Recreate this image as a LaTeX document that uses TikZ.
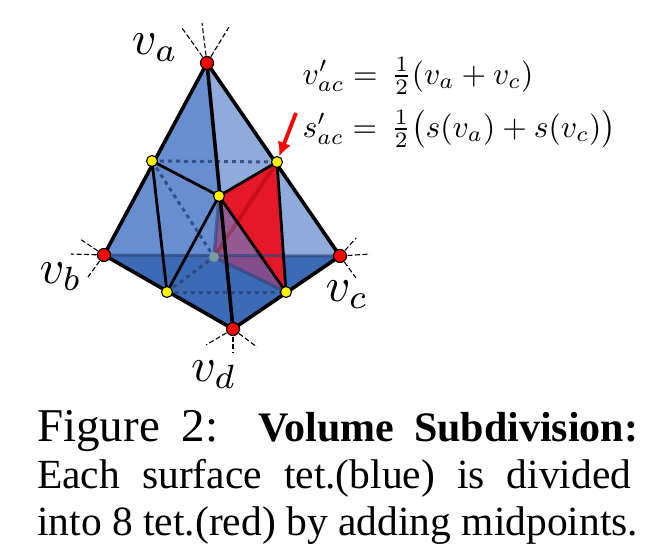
\documentclass[tikz,border=0pt]{standalone}
\usepackage{amsmath}
\usepackage{fontspec}
\setmainfont{Liberation Serif}
\usepackage{tikz}
\usetikzlibrary{arrows.meta}
\definecolor{faceleft}{RGB}{103,143,208}
\definecolor{faceright}{RGB}{142,171,220}
\definecolor{facebase}{RGB}{61,106,180}
\definecolor{edgeblue}{RGB}{42,70,125}
\definecolor{tetred}{RGB}{228,24,40}
\definecolor{tetpurple}{RGB}{150,70,130}
\definecolor{fadedmid}{RGB}{115,155,160}
\tikzset{
    corner/.style={draw, circle, fill=red, line width=1.2pt, inner sep=0pt, minimum size=13pt},
    mid/.style={draw, circle, fill=yellow, line width=1.1pt, inner sep=0pt, minimum size=11pt},
    spoke/.style={line width=1.1pt, dash pattern=on 5pt off 2.5pt},
    hidden/.style={edgeblue, opacity=0.85, line width=3pt, dash pattern=on 4pt off 4pt},
    outer/.style={line width=3.6pt},
    inner/.style={line width=2.8pt},
    vlabel/.style={inner sep=0pt, scale=4.8},
    formula/.style={inner sep=0pt, anchor=base west, scale=3.15},
    caption/.style={inner sep=0pt, anchor=base west, font=\fontsize{41.5}{41.5}\selectfont}
}

\begin{document}
\begin{tikzpicture}[x=1pt, y=-1pt]
    \useasboundingbox (0, 0) rectangle (666, 557);

    % vertices of the big tet
    \coordinate (a) at (207, 63);
    \coordinate (b) at (104, 255);
    \coordinate (c) at (340, 256);
    \coordinate (d) at (233, 329);

    % midpoints of its edges
    \coordinate (ab) at (152, 161);
    \coordinate (ac) at (277, 162);
    \coordinate (ad) at (219, 196);
    \coordinate (bd) at (167, 292);
    \coordinate (cd) at (286, 292);
    \coordinate (bc) at (214, 257);

    % faces
    \fill[faceleft] (a) -- (b) -- (d) -- cycle;
    \fill[faceright] (a) -- (c) -- (d) -- cycle;
    \fill[facebase] (b) -- (c) -- (d) -- cycle;

    % the red tet
    \fill[tetred] (ad) -- (ac) -- (cd) -- cycle;
    \fill[tetpurple, opacity=0.8] (ad) -- (bc) -- (cd) -- cycle;
    \draw[red!60!black, line width=4pt, opacity=0.35] (bc) -- (ac);
    \draw[edgeblue, line width=3.4pt, opacity=0.6] (bc) -- (ad);
    \draw[edgeblue, line width=3.4pt, opacity=0.6] (bc) -- (cd);
    \draw[edgeblue, line width=3pt, opacity=0.65] (b) -- (c);

    % hidden edges
    \draw[hidden] (ab) -- (ac);
    \draw[hidden] (ab) -- (bc);
    \draw[hidden] (bd) -- (bc);
    \draw[hidden] (bd) -- (cd);

    % edges of the subdivision
    \foreach \p/\q in {ab/ad, ac/ad, ad/bd, ad/cd, ab/bd, ac/cd}
    \draw[inner] (\p) -- (\q);

    % edges of the big tet
    \foreach \p/\q in {a/b, a/c, a/d, b/d, c/d}
    \draw[outer] (\p) -- (\q);

    % neighbours, only hinted
    \coordinate (a1) at (182, 28);
    \coordinate (a2) at (202, 23);
    \coordinate (a3) at (229, 27);
    \coordinate (b1) at (80, 239);
    \coordinate (b2) at (71, 254);
    \coordinate (b3) at (88, 277);
    \coordinate (c1) at (356, 238);
    \coordinate (c2) at (370, 254);
    \coordinate (c3) at (356, 278);
    \coordinate (d1) at (206, 345);
    \coordinate (d2) at (233, 353);
    \coordinate (d3) at (257, 347);
    \foreach \v in {a, b, c, d}
    \foreach \i in {1, 2, 3}
    \draw[spoke] (\v) -- (\v\i);

    % vertex dots
    \foreach \v in {a, b, c, d}
    \node[corner] (n\v) at (\v) {};
    \foreach \v in {ab, ac, ad, bd, cd}
    \node[mid] (n\v) at (\v) {};
    \node[circle, fill=fadedmid, inner sep=0pt, minimum size=10pt] (nbc) at (bc) {};

    % arrow to the new vertex
    \coordinate (tail) at (296, 113);
    \draw[-{Latex[length=14pt, width=14pt]}, red, line width=3.8pt] (tail) -- (nac);

    % labels of the vertices
    \node[vlabel] (la) at (155, 48) {$v_a$};
    \node[vlabel] (lb) at (61, 277) {$v_b$};
    \node[vlabel] (lc) at (347, 295) {$v_c$};
    \node[vlabel] (ld) at (214, 375) {$v_d$};

    % midpoint formulas
    \node[formula] (eqv) at (302, 84) {$v'_{ac} = \,\frac{1}{2}(v_a + v_c)$};
    \node[formula] (eqs) at (302, 137) {$s'_{ac} = \,\frac{1}{2}\bigl(s(v_a) + s(v_c)\bigr)$};

    % caption, one node per line
    \node[caption, font=\fontsize{47}{47}\selectfont] (figlabel) at (37, 441) {\makebox[181pt][s]{Figure 2:}};
    \node[caption, font=\fontsize{42}{42}\selectfont\bfseries] (figtitle) at (258, 441) {\makebox[380pt][s]{Volume Subdivision:}};
    \node[caption] (line2) at (37, 488) {\makebox[594pt][s]{Each surface tet.(blue) is divided}};
    \node[caption] (line3) at (37, 535) {\makebox[601pt][s]{into 8 tet.(red) by adding midpoints.}};
\end{tikzpicture}
\end{document}
